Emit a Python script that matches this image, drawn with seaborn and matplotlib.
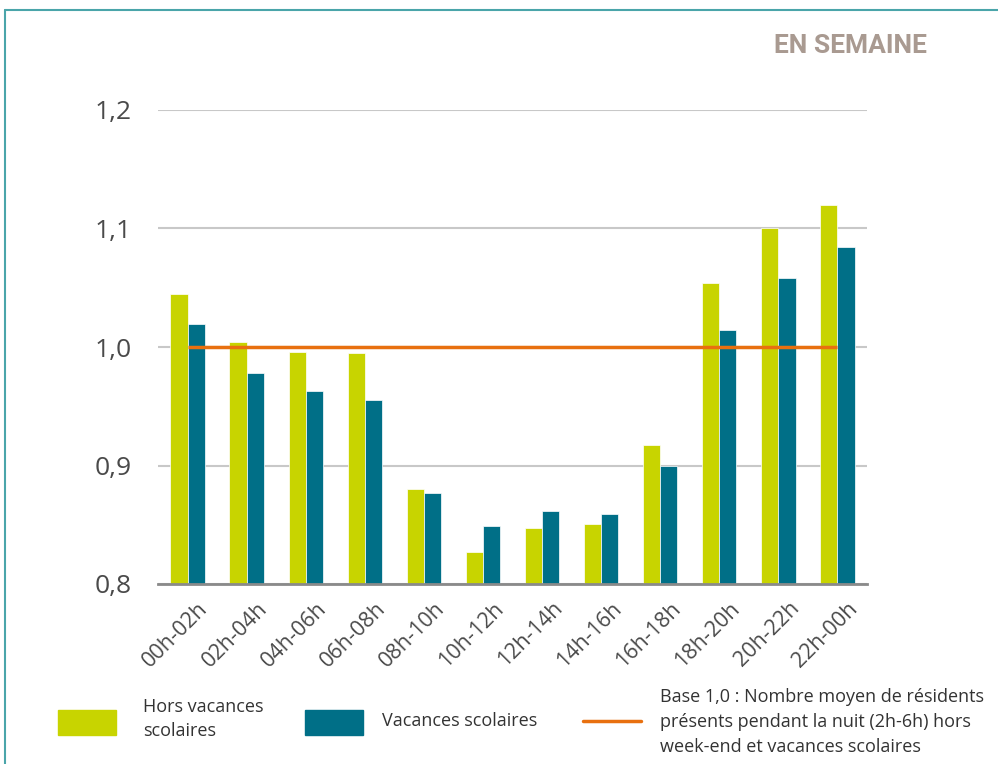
import matplotlib
matplotlib.use("Agg")
import matplotlib.pyplot as plt
import matplotlib.transforms as mtransforms
import seaborn as sns
import pandas as pd
from matplotlib.patches import Rectangle
from matplotlib.lines import Line2D
from matplotlib.ticker import FixedLocator, FuncFormatter

categories = ["00h-02h", "02h-04h", "04h-06h", "06h-08h", "08h-10h", "10h-12h",
              "12h-14h", "14h-16h", "16h-18h", "18h-20h", "20h-22h", "22h-00h"]
hors_vacances = [1.045, 1.004, 0.996, 0.995, 0.880, 0.827, 0.847, 0.851, 0.917, 1.054, 1.100, 1.120]
vacances = [1.019, 0.978, 0.963, 0.955, 0.877, 0.849, 0.862, 0.859, 0.900, 1.014, 1.058, 1.084]
series_names = ["Hors vacances\nscolaires", "Vacances scolaires"]
base_value = 1.0
base_label = "Base 1,0 : Nombre moyen de résidents\nprésents pendant la nuit (2h-6h) hors\nweek-end et vacances scolaires"
yticks = [0.8, 0.9, 1.0, 1.1, 1.2]
title = "EN SEMAINE"

GREEN = "#c8d400"
TEAL = "#006f87"
ORANGE = "#e8700f"

sns.set_style("white")
plt.rcParams["font.family"] = ["Open Sans", "DejaVu Sans"]

df = pd.DataFrame({
    "cat": categories * 2,
    "val": hors_vacances + vacances,
    "serie": [series_names[0]] * len(categories) + [series_names[1]] * len(categories),
})

fig = plt.figure(figsize=(9.98, 7.64), dpi=100)
ax = fig.add_axes([158 / 998, 1 - 584 / 764, (867 - 158) / 998, (584 - 110) / 764])

sns.barplot(data=df, x="cat", y="val", hue="serie", palette=[GREEN, TEAL],
            width=0.58, ax=ax, legend=False, zorder=3, saturation=1,
            edgecolor="white", linewidth=0.5)

ax.plot([0, len(categories) - 1], [base_value, base_value], color=ORANGE, lw=2.5, zorder=4,
        solid_capstyle="butt")

ax.set_ylim(0.8, 1.2)
ax.set_xlim(-0.5, len(categories) - 0.5)
ax.set_yticks(yticks)
ax.yaxis.set_major_formatter(FuncFormatter(lambda v, p: f"{v:.1f}".replace(".", ",")))
ax.grid(axis="y", color="#c8c8c8", lw=1.5, zorder=0)
ax.set_axisbelow(True)
ax.set_xlabel("")
ax.set_ylabel("")
for s in ["top", "right", "left"]:
    ax.spines[s].set_visible(False)
ax.spines["bottom"].set_color("#8a8a8a")
ax.spines["bottom"].set_linewidth(2)
ax.spines["bottom"].set_zorder(5)

ax.tick_params(axis="y", length=0, labelsize=19, labelcolor="#4a4a4a", pad=19)
ax.xaxis.set_minor_locator(FixedLocator([i - 0.5 for i in range(len(categories) + 1)]))
ax.tick_params(axis="x", which="minor", length=6, width=1.5, color="#8a8a8a", direction="out")
ax.tick_params(axis="x", which="major", length=0, labelsize=15.5, labelcolor="#4a4a4a", pad=10)
offset = mtransforms.ScaledTranslation(10 / 100, 0, fig.dpi_scale_trans)
for lab in ax.get_xticklabels():
    lab.set_rotation(45)
    lab.set_ha("right")
    lab.set_rotation_mode("anchor")
    lab.set_transform(lab.get_transform() + offset)

# Title
fig.text(927 / 998, 1 - 46 / 764, title, ha="right", va="center", fontsize=19,
         fontweight="bold", color="#a99a91", family=["Roboto", "DejaVu Sans"])

# Frame lines
fig.add_artist(Line2D([5 / 998, 1.0], [1 - 10 / 764, 1 - 10 / 764], color="#4aa5aa", lw=1.5))
fig.add_artist(Line2D([5 / 998, 5 / 998], [0, 1 - 10 / 764], color="#4aa5aa", lw=1.5))

# Legend
W, H = 998, 764
fig.add_artist(Rectangle((58 / W, 1 - 735 / H), 58 / W, 25 / H, color=GREEN, transform=fig.transFigure))
fig.text(143 / W, 1 - 719 / H, series_names[0], ha="left", va="center", fontsize=13,
         color="#333333", linespacing=1.5)
fig.add_artist(Rectangle((305 / W, 1 - 735 / H), 58 / W, 25 / H, color=TEAL, transform=fig.transFigure))
fig.text(382 / W, 1 - 721 / H, series_names[1], ha="left", va="center", fontsize=13,
         color="#333333")
fig.add_artist(Line2D([583 / W, 641 / W], [1 - 721 / H, 1 - 721 / H], color=ORANGE, lw=2.5))
fig.text(660 / W, 1 - 722 / H, base_label, ha="left", va="center", fontsize=13,
         color="#333333", linespacing=1.5)

fig.savefig("out.png", dpi=100)
